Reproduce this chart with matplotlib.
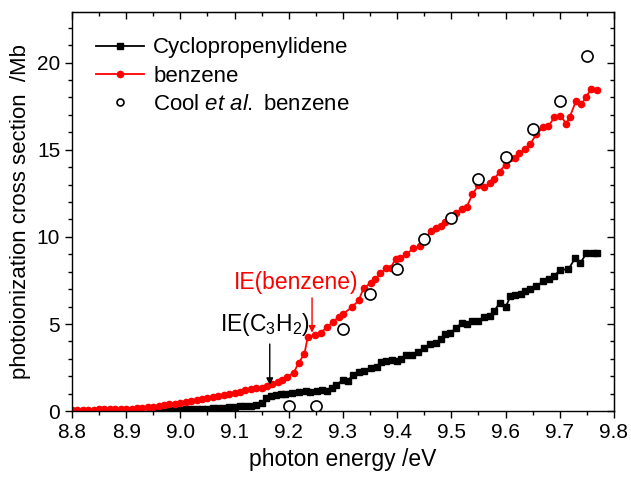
import numpy as np
import matplotlib
matplotlib.use("Agg")
import matplotlib.pyplot as plt
from matplotlib.ticker import MultipleLocator

plt.rcParams["font.family"] = ["Liberation Sans", "DejaVu Sans"]
plt.rcParams["mathtext.fontset"] = "custom"
plt.rcParams["mathtext.rm"] = "Liberation Sans"
plt.rcParams["mathtext.it"] = "Liberation Sans:italic"

# --- benzene (this work) ---
benz_e = [8.80, 8.81, 8.82, 8.83, 8.84, 8.85, 8.86, 8.87, 8.88, 8.89,
          8.90, 8.91, 8.92, 8.93, 8.94, 8.95, 8.96, 8.97, 8.98, 8.99,
          9.00, 9.01, 9.02, 9.03, 9.04, 9.05, 9.06, 9.07, 9.08, 9.09,
          9.10, 9.11, 9.12, 9.13, 9.14, 9.15, 9.16, 9.17, 9.18, 9.188,
          9.196, 9.209, 9.218, 9.229, 9.235, 9.248, 9.259, 9.270, 9.281, 9.292,
          9.301, 9.316, 9.329, 9.338, 9.351, 9.360, 9.369, 9.379, 9.388, 9.397,
          9.406, 9.417, 9.430, 9.443, 9.452, 9.462, 9.471, 9.480, 9.489, 9.498,
          9.508, 9.519, 9.528, 9.539, 9.550, 9.561, 9.572, 9.579, 9.589, 9.600,
          9.609, 9.618, 9.625, 9.636, 9.646, 9.657, 9.670, 9.679, 9.690, 9.701,
          9.712, 9.718, 9.730, 9.740, 9.749, 9.758, 9.769]
benz_xs = [0.05, 0.05, 0.07, 0.08, 0.08, 0.10, 0.10, 0.12, 0.12, 0.13,
           0.15, 0.15, 0.18, 0.20, 0.22, 0.25, 0.30, 0.35, 0.40, 0.40,
           0.45, 0.50, 0.60, 0.65, 0.70, 0.75, 0.80, 0.85, 0.90, 1.00,
           1.05, 1.10, 1.20, 1.25, 1.30, 1.35, 1.45, 1.55, 1.70, 1.80,
           1.95, 2.20, 2.75, 3.30, 4.25, 4.35, 4.50, 4.80, 5.10, 5.40,
           5.60, 5.95, 6.35, 7.05, 7.35, 7.60, 7.90, 8.20, 8.20, 8.75,
           8.80, 9.00, 9.35, 9.45, 9.90, 10.35, 10.50, 10.60, 10.85, 11.05,
           11.35, 11.60, 11.70, 12.45, 12.95, 12.85, 13.10, 13.30, 13.75, 14.15,
           14.50, 14.55, 14.80, 15.05, 15.35, 15.90, 16.30, 16.35, 16.85, 16.95,
           16.50, 16.85, 17.80, 17.60, 18.05, 18.50, 18.45]

# --- cyclopropenylidene ---
c3h2_e = [8.95, 8.96, 8.97, 8.98, 8.99, 9.00, 9.01, 9.02, 9.03, 9.04,
          9.05, 9.06, 9.07, 9.08, 9.09, 9.10, 9.11, 9.12, 9.13, 9.14,
          9.15, 9.158, 9.167, 9.176, 9.185, 9.194, 9.206, 9.218, 9.231, 9.240,
          9.252, 9.261, 9.270, 9.279, 9.288, 9.300, 9.309, 9.318, 9.329, 9.338,
          9.351, 9.362, 9.371, 9.380, 9.390, 9.399, 9.408, 9.417, 9.428, 9.439,
          9.450, 9.460, 9.471, 9.480, 9.489, 9.498, 9.508, 9.519, 9.528, 9.539,
          9.550, 9.561, 9.572, 9.579, 9.589, 9.600, 9.609, 9.618, 9.629, 9.636,
          9.646, 9.657, 9.670, 9.681, 9.689, 9.701, 9.716, 9.729, 9.738, 9.749,
          9.762, 9.769]
c3h2_xs = [0.00, 0.02, 0.03, 0.05, 0.05, 0.07, 0.10, 0.10, 0.12, 0.15,
           0.15, 0.17, 0.20, 0.20, 0.22, 0.25, 0.28, 0.30, 0.30, 0.35,
           0.45, 0.75, 0.85, 0.95, 1.00, 1.00, 1.05, 1.10, 1.15, 1.10,
           1.15, 1.20, 1.15, 1.30, 1.50, 1.80, 1.75, 2.05, 2.25, 2.30,
           2.45, 2.55, 2.80, 2.85, 2.95, 2.85, 3.00, 3.20, 3.20, 3.40,
           3.60, 3.85, 3.90, 4.15, 4.40, 4.50, 4.75, 5.05, 5.00, 5.15,
           5.15, 5.40, 5.45, 5.75, 6.20, 5.95, 6.60, 6.65, 6.70, 6.90,
           7.00, 7.20, 7.45, 7.60, 7.75, 8.10, 8.15, 8.80, 8.50, 9.05,
           9.10, 9.10]

# --- Cool et al. benzene ---
cool_e = [9.20, 9.25, 9.30, 9.35, 9.40, 9.45, 9.50, 9.55, 9.60, 9.65, 9.70, 9.75]
cool_xs = [0.30, 0.30, 4.72, 6.75, 8.15, 9.85, 11.1, 13.3, 14.6, 16.2, 17.8, 20.4]

ie_benzene = 9.243
ie_c3h2 = 9.165

fig = plt.figure(figsize=(6.31, 4.82), dpi=100)
ax = fig.add_axes([0.114, 0.147, 0.859, 0.828])

ax.plot(c3h2_e, c3h2_xs, color="black", marker="s", markersize=4, lw=1.3,
        label="Cyclopropenylidene")
ax.plot(benz_e, benz_xs, color="red", marker="o", markersize=4.5, lw=1.3,
        label="benzene")
ax.plot(cool_e, cool_xs, ls="none", marker="o", markersize=8, mfc="white",
        mec="black", mew=1.2, label=r"Cool $\it{et\ al.}$ benzene")

# annotations: arrows and labels
arrow = dict(arrowstyle="-|>", lw=1, mutation_scale=10, shrinkA=0, shrinkB=0)
ax.annotate("", xy=(ie_benzene, 4.5), xytext=(ie_benzene, 6.5),
            arrowprops=dict(arrow, color="red"))
ax.text(9.213, 6.75, "IE(benzene)", color="red", fontsize=16.5,
        ha="center", va="bottom")
ax.annotate("", xy=(ie_c3h2, 1.5), xytext=(ie_c3h2, 3.85),
            arrowprops=dict(arrow, color="black"))
ax.text(9.156, 4.2, r"IE(C$_3$H$_2$)", fontsize=16.5, ha="center", va="bottom")

ax.set_xlim(8.8, 9.8)
ax.set_ylim(0, 22.9)
ax.xaxis.set_major_locator(MultipleLocator(0.1))
ax.xaxis.set_minor_locator(MultipleLocator(0.05))
ax.yaxis.set_major_locator(MultipleLocator(5))
ax.yaxis.set_minor_locator(MultipleLocator(1))
ax.tick_params(which="both", direction="out", labelsize=15, width=1)
ax.tick_params(which="major", length=5)
ax.tick_params(which="minor", length=3)
for s in ax.spines.values():
    s.set_linewidth(1)

# mirrored ticks on top and right, pointing inward
top = ax.secondary_xaxis("top")
top.xaxis.set_major_locator(MultipleLocator(0.1))
top.xaxis.set_minor_locator(MultipleLocator(0.05))
top.tick_params(which="both", direction="in", labeltop=False, width=1)
top.tick_params(which="major", length=5)
top.tick_params(which="minor", length=3)
right = ax.secondary_yaxis("right")
right.yaxis.set_major_locator(MultipleLocator(5))
right.yaxis.set_minor_locator(MultipleLocator(1))
right.tick_params(which="both", direction="in", labelright=False, width=1)
right.tick_params(which="major", length=5)
right.tick_params(which="minor", length=3)

ax.set_xlabel("photon energy /eV", fontsize=16.5)
ax.set_ylabel("photoionization cross section  /Mb", fontsize=16)

leg = ax.legend(loc="upper left", bbox_to_anchor=(0.019, 0.97), frameon=False,
                fontsize=16, handlelength=2.2, handletextpad=0.4,
                labelspacing=0.33, borderaxespad=0.2)
leg.legend_handles[2].set_markersize(5)

fig.savefig("out.png", dpi=100)
